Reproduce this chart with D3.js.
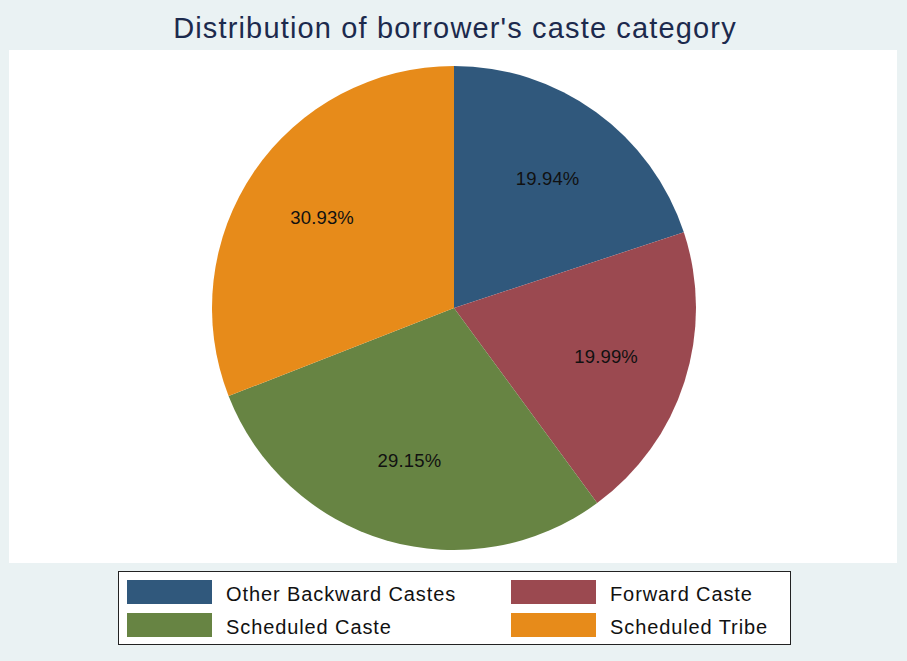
<!DOCTYPE html>
<html>
<head>
<meta charset="utf-8">
<script src="https://cdn.jsdelivr.net/npm/d3@7"></script>
<style>
  html, body { margin: 0; padding: 0; background: #eaf2f3; }
  svg { display: block; }
  text { font-family: "Liberation Sans", Arial, sans-serif; }
</style>
</head>
<body>
<svg id="chart" width="907" height="661"></svg>
<script>
// Caste categories of borrowers and their shares (%)
const categories = ["Other Backward Castes", "Forward Caste", "Scheduled Caste", "Scheduled Tribe"];
const shares = [19.94, 19.99, 29.15, 30.93];
const palette = ["#30587c", "#9b4950", "#678443", "#e78b1a"];
const title = "Distribution of borrower's caste category";

const W = 907, H = 661;
const svg = d3.select("#chart");

// page background and white plot region
svg.append("rect").attr("width", W).attr("height", H).attr("fill", "#eaf2f3");
svg.append("rect").attr("x", 9).attr("y", 50).attr("width", 888).attr("height", 513).attr("fill", "#ffffff");

// title
svg.append("text")
  .attr("x", 455).attr("y", 37.5)
  .attr("text-anchor", "middle")
  .attr("font-size", 29)
  .attr("letter-spacing", "1.15px")
  .attr("fill", "#1c2a4d")
  .text(title);

// pie, clockwise from 12 o'clock
const cx = 454, cy = 308, R = 242;
const color = d3.scaleOrdinal().domain(categories).range(palette);
const data = categories.map((c, i) => ({ cat: c, val: shares[i] }));
const pie = d3.pie().value(d => d.val).sort(null);
const arcs = pie(data);
const arc = d3.arc().innerRadius(0).outerRadius(R);
const labelArc = d3.arc().innerRadius(R * 0.66).outerRadius(R * 0.66);

const g = svg.append("g").attr("transform", `translate(${cx},${cy})`);
g.selectAll("path.slice")
  .data(arcs)
  .join("path")
  .attr("class", "slice")
  .attr("d", arc)
  .attr("fill", d => color(d.data.cat));

g.selectAll("text.pct")
  .data(arcs)
  .join("text")
  .attr("class", "pct")
  .attr("transform", d => `translate(${labelArc.centroid(d)})`)
  .attr("text-anchor", "middle")
  .attr("dy", "0.32em")
  .attr("font-size", 18.5)
  .attr("letter-spacing", "0.15px")
  .attr("fill", "#111111")
  .text(d => d3.format(".2f")(d.data.val) + "%");

// legend
const legend = svg.append("g");
legend.append("rect")
  .attr("x", 118.5).attr("y", 571.5).attr("width", 672).attr("height", 73)
  .attr("fill", "#ffffff").attr("stroke", "#222222").attr("stroke-width", 1);

const colX = [127, 511], rowY = [580, 613];
const items = legend.selectAll("g.item")
  .data(categories)
  .join("g")
  .attr("class", "item")
  .attr("transform", (d, i) => `translate(${colX[i % 2]},${rowY[Math.floor(i / 2)]})`);
items.append("rect")
  .attr("width", 85).attr("height", 24)
  .attr("fill", d => color(d));
items.append("text")
  .attr("x", 99).attr("y", 21)
  .attr("font-size", 20)
  .attr("letter-spacing", "0.9px")
  .attr("fill", "#111111")
  .text(d => d);
</script>
</body>
</html>
